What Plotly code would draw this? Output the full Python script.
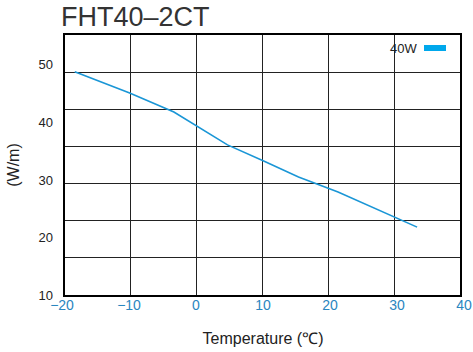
import plotly.graph_objects as go

temperature = [-18.1, -9.9, -3.3, 0.4, 4.7, 10.1, 15.3, 21.2, 30.1, 33.0]
output_40w = [48.8, 45.1, 41.8, 39.2, 36.1, 33.3, 30.5, 27.9, 23.4, 21.8]
x_ticks = [-20, -10, 0, 10, 20, 30, 40]
y_ticks = [10, 20, 30, 40, 50]
series_name = "40W"
title_text = "FHT40–2CT"

line_color = "#1a96d6"
legend_color = "#00a8ec"
font_family = "Liberation Sans, Arial, sans-serif"

W, H = 473, 352
ml, mr, mt, mb = 62, 9, 35, 57
pw = W - ml - mr
ph = H - mt - mb

fig = go.Figure()
# invisible trace so the frame/grid subplot is drawn
fig.add_trace(go.Scatter(x=[None], y=[None], xaxis="x", yaxis="y",
                         showlegend=False, hoverinfo="skip"))
fig.add_trace(go.Scatter(
    x=temperature, y=output_40w, mode="lines", name=series_name,
    line=dict(color=line_color, width=1.6), xaxis="x2", yaxis="y2",
    showlegend=False,
))

fig.update_layout(
    width=W, height=H,
    margin=dict(l=ml, r=mr, t=mt, b=mb, autoexpand=False),
    plot_bgcolor="rgba(0,0,0,0)", paper_bgcolor="white",
    font=dict(family=font_family, color="#222"),
    showlegend=False,
    xaxis=dict(domain=[3 / pw, 398 / pw], range=[0, 6], dtick=1, tick0=0,
               showgrid=True, gridcolor="#222", gridwidth=1,
               showline=True, linecolor="#000", linewidth=2, mirror=True,
               showticklabels=False, ticks="", zeroline=False, anchor="y",
               automargin=False),
    yaxis=dict(domain=[0, 1], range=[0, 7], dtick=1, tick0=0,
               showgrid=True, gridcolor="#222", gridwidth=1,
               showline=True, linecolor="#000", linewidth=2, mirror=True,
               showticklabels=False, ticks="", zeroline=False, anchor="x",
               automargin=False),
    xaxis2=dict(domain=[0, 1], range=[-20, 40], tickvals=x_ticks,
                ticktext=[("−" + str(-v)) if v < 0 else str(v) for v in x_ticks],
                showgrid=False, zeroline=False, showline=False, ticks="",
                ticklabeloverflow="allow", automargin=False,
                tickfont=dict(size=14, color="#2a86c0"), anchor="y2",
                title=dict(text="Temperature (℃)", font=dict(size=16, color="#222"),
                           standoff=20)),
    yaxis2=dict(domain=[0, 1], range=[10, 55.2], tickvals=y_ticks,
                showgrid=False, zeroline=False, showline=False, ticks="",
                tickfont=dict(size=13, color="#222"), anchor="x2",
                ticklabelstandoff=8, automargin=False,
                title=dict(text="(W/m)", font=dict(size=16, color="#222"),
                           standoff=14)),
    annotations=[
        dict(text=title_text, x=(135 - ml) / pw, y=1 + (mt - 17) / ph,
             xref="paper", yref="paper",
             xanchor="center", yanchor="middle", showarrow=False,
             font=dict(size=27, color="#333", family=font_family)),
        dict(text=series_name, x=(419 - ml) / pw, y=1 - (48 - mt) / ph,
             xref="paper", yref="paper", xanchor="right", yanchor="middle",
             showarrow=False, font=dict(size=13, color="#222")),
    ],
    shapes=[
        dict(type="rect", xref="paper", yref="paper",
             x0=(424 - ml) / pw, x1=(446 - ml) / pw,
             y0=1 - (51 - mt) / ph, y1=1 - (45 - mt) / ph,
             fillcolor=legend_color, line=dict(width=0)),
    ],
)

fig.write_html("out.html")
